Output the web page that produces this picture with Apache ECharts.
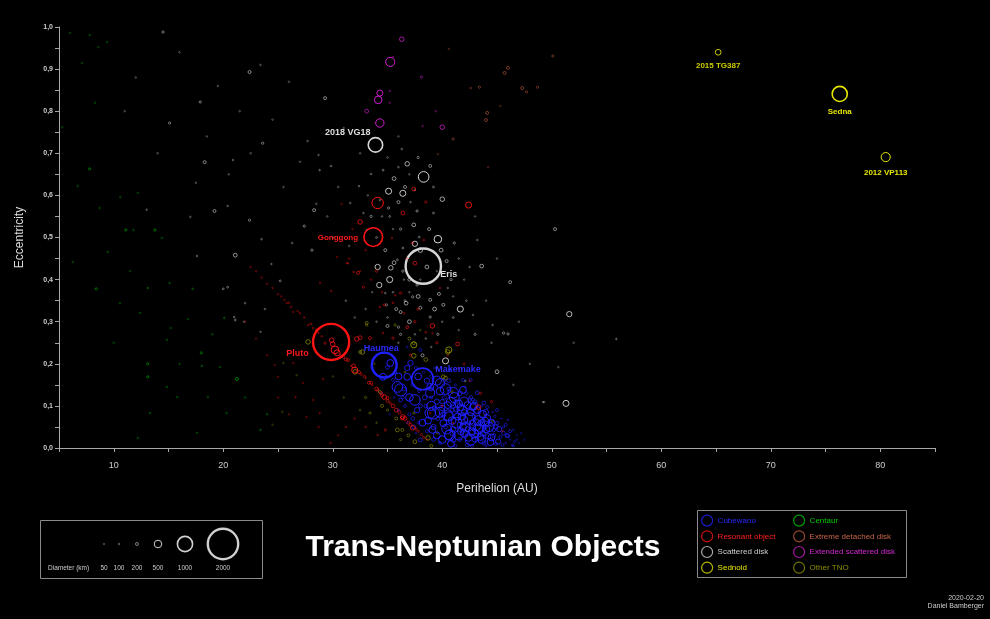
<!DOCTYPE html>
<html>
<head>
<meta charset="utf-8">
<script src="https://cdn.jsdelivr.net/npm/echarts@6/dist/echarts.min.js"></script>
<style>
  html, body { margin: 0; padding: 0; background: #000; }
  #main { width: 990px; height: 619px; }
</style>
</head>
<body>
<div id="main"></div>
<script>
// [perihelion AU, eccentricity, diameter km, name]
let cubewano = [
  [34.7,0.197,1632,'Haumea'],[38.2,0.164,1430,'Makemake'],
  [41.0,0.131,700],[39.2,0.083,800],[43.0,0.055,800],[38.9,0.131,600],[40.7,0.031,700],[42.6,0.019,700],
  [44.4,0.014,450],[46.5,0.005,150],[45.5,0.007,200],[39.8,0.154,600],[41.9,0.138,450],[43.9,0.062,600],
  [45.0,0.059,250],[46.0,0.029,250],[43.5,0.026,450],[41.9,0.067,600],[40.1,0.059,450],[41.65,0.097,450],
  [42.8,0.097,450],[44.1,0.097,200],[42.6,0.162,200],[40.5,0.102,450],[39.1,0.043,450],[36.2,0.138,800],
  [37.5,0.114,700],[38.9,0.083,700],[40.5,0.078,700],[40.6,0.031,600],[43.3,0.045,650],[44.1,0.071,450],
  [41.3,0.092,350],[42.3,0.102,450],[34.6,0.169,450],[36.8,0.169,450],[37.1,0.202,350],[38.9,0.145,450],
  [35.25,0.202,450],[37.4,0.05,250],[39.2,0.05,350],[41.9,0.05,450],[44.7,0.043,250],[45.3,0.026,200],
  [46.4,0.007,150],[42.3,0.007,250],[39.8,0.012,200],[38.0,0.019,250],[36.2,0.114,250],[35.5,0.162,200],
  [40.7,0.185,200],[41.9,0.162,200],[43.2,0.131,250],[43.8,0.107,250],[45.0,0.09,200],[46.0,0.067,120],
  [46.5,0.043,120],[38.0,0.233,200],[36.8,0.24,120],[35.9,0.145,700],[35.0,0.192,250],
  [37.0,0.08,200],[37.8,0.06,150],[38.5,0.10,250],[39.5,0.11,350],[40.2,0.12,250],[40.9,0.09,250],
  [41.4,0.075,450],[42.0,0.085,350],[42.4,0.06,250],[42.9,0.075,250],[43.4,0.085,200],[44.4,0.06,200],
  [44.8,0.075,150],[45.6,0.05,150],[46.2,0.02,120],[47.0,0.012,80],[47.5,0.02,60],[45.8,0.012,120],
  [44.9,0.01,200],[43.8,0.012,250],[43.0,0.02,350],[41.6,0.02,250],[41.0,0.045,350],[40.3,0.05,250],
  [39.6,0.07,250],[38.6,0.04,200],[37.6,0.035,120],[36.8,0.06,120],[36.0,0.09,150],[35.6,0.12,120],
  [37.3,0.15,200],[38.3,0.18,150],[39.3,0.19,120],[40.2,0.16,200],[41.2,0.15,150],[42.2,0.13,200],
  [42.8,0.115,200],[43.6,0.10,150],[44.6,0.085,120],[45.4,0.07,100],[46.8,0.03,60],[42.0,0.035,500],
  [42.7,0.04,450],[43.7,0.035,350],[44.2,0.028,350],[41.3,0.11,250],[40.0,0.095,350],[39.0,0.12,200],
  [37.9,0.135,200],[36.6,0.1,200],[35.2,0.08,100],[34.5,0.13,100],[42.5,0.115,250],[44.0,0.045,500],
  [43.2,0.09,450],[42.1,0.145,120],[40.6,0.14,250],[41.7,0.04,450],[40.9,0.065,500],
  [39.5,0.16,600],[40.3,0.14,700],[41.1,0.12,650],[42.0,0.11,600],[42.9,0.10,500],[43.7,0.08,500],
  [44.5,0.06,450],[45.2,0.045,350],[45.9,0.03,250],[39.0,0.10,600],[39.8,0.085,650],[40.6,0.075,600],
  [41.3,0.06,700],[42.1,0.05,650],[42.9,0.035,600],[43.6,0.02,500],[44.5,0.025,450],[40.0,0.02,500],
  [40.8,0.01,450],[41.5,0.03,600],[42.4,0.025,500],[41.8,0.075,500],[42.6,0.085,450],[43.3,0.065,650],
  [44.3,0.05,600],[45.1,0.015,350],[46.2,0.04,200],[38.2,0.06,450],[37.0,0.12,500],[36.0,0.17,450],
  [36.8,0.19,350],[37.8,0.17,450],[38.6,0.16,350],[39.8,0.135,500],[40.8,0.11,600],[41.8,0.09,650],
  [43.0,0.11,250],[44.0,0.085,350],[45.8,0.055,200],[46.8,0.02,120],[47.2,0.035,100],[40.4,0.045,650],
  [39.5,0.03,450],[38.7,0.065,450],[37.7,0.09,350],[36.5,0.14,250],[41.0,0.02,350],[43.5,0.05,700],
  [42.5,0.07,750],[41.5,0.105,500],
  [38.4,0.12,300],[39.3,0.095,300],[40.1,0.08,350],[40.9,0.035,300],[41.6,0.055,350],[42.3,0.045,300],
  [43.1,0.03,300],[43.9,0.05,300],[44.7,0.03,250],[42.8,0.06,350],[41.0,0.10,300],[40.0,0.11,300],
  [39.0,0.14,250],[38.0,0.10,250],[37.3,0.07,250],[36.4,0.12,200],[35.7,0.18,200],[37.6,0.19,200],
  [39.0,0.17,200],[40.6,0.16,250],[41.6,0.13,300],[42.6,0.12,250],[43.6,0.06,400],[44.9,0.05,300],
  [45.6,0.035,250],[46.6,0.015,150],[44.0,0.005,150],[42.7,0.005,200],[41.2,0.005,200],[39.2,0.02,250]
];
let resonant = [
  [29.85,0.252,2377,'Pluto'],[33.7,0.501,1230,'Gonggong'],
  [29.9,0.256,300],[30.2,0.233,500],[30.4,0.226,400],[30.0,0.247,300],[29.3,0.249,150],[31.4,0.209,200],
  [32.0,0.185,400],[32.2,0.259,300],[27.0,0.32,100],[27.75,0.292,100],[28.7,0.273,100],[25.8,0.344,80],
  [33.0,0.166,100],[33.6,0.15,100],[34.1,0.138,150],[34.7,0.121,300],[35.25,0.107,150],[36.4,0.074,300],
  [37.3,0.048,300],[34.8,0.043,150],[34.1,0.031,100],[29.8,0.012,80],[29.1,0.164,80],[26.6,0.121,60],
  [28.7,0.05,60],[27.6,0.074,60],[25.0,0.169,50],[24.7,0.197,50],[32.3,0.416,200],[31.4,0.439,100],
  [29.85,0.373,100],[28.85,0.392,80],[25.6,0.352,60],[26.4,0.323,60],[33.4,0.261,200],[32.5,0.262,250],
  [35.5,0.261,150],[39.1,0.29,300],[41.4,0.247,250],[43.3,0.097,300],[37.5,0.439,250],[34.1,0.582,750],
  [32.5,0.537,300],[42.4,0.577,400],[37.4,0.615,250],[36.4,0.558,250],[38.5,0.584,150],[38.3,0.494,120],
  [35.4,0.499,100],[31.3,0.439,100],[32.8,0.382,150],[34.3,0.335,100],[34.7,0.34,150],[35.7,0.363,100],
  [36.2,0.368,150],[36.8,0.287,200],[34.6,0.273,100],[31.9,0.418,100],[30.4,0.454,60],[41.0,0.059,100],
  [38.9,0.083,100],[35.0,0.119,200],[36.35,0.071,250],[37.1,0.221,150],[39.1,0.273,100],[37.3,0.487,150],
  [23.0,0.42,50],[24.0,0.39,60],[25.0,0.365,60],[26.2,0.335,80],[28.2,0.285,80],[31.0,0.215,150],
  [31.7,0.195,100],[32.6,0.175,150],[33.3,0.155,200],[34.4,0.13,200],[35.8,0.09,250],[36.9,0.06,200],
  [37.8,0.04,150],[38.3,0.025,150],[26.4,0.202,60],[27.3,0.154,60],[28.2,0.114,60],[28.8,0.083,60],
  [30.5,0.03,60],[31.2,0.05,80],[32.0,0.07,80],[33.0,0.05,100],[22.0,0.30,50],[23.0,0.26,50],
  [24.0,0.22,50],[25.0,0.12,50],[26.0,0.08,50],[40.0,0.10,120],[44.5,0.11,150],[42.0,0.20,120],
  [45.5,0.04,100],[31.8,0.52,60],[30.8,0.58,50],[36.8,0.45,100],[39.8,0.38,80],[34.0,0.42,150],
  [33.0,0.47,100],[37.8,0.33,150],
  [22.5,0.43,60],[23.5,0.405,60],[24.5,0.38,80],[25.3,0.36,60],[26.0,0.345,100],[26.8,0.325,80],
  [27.4,0.31,100],[28.0,0.295,120],[28.5,0.28,150],[29.0,0.265,100],[30.8,0.22,150],[31.2,0.21,200],
  [31.9,0.195,250],[32.4,0.18,200],[32.9,0.17,150],[33.5,0.155,200],[34.0,0.14,250],[34.5,0.125,200],
  [35.0,0.112,200],[35.5,0.10,250],[36.1,0.085,200],[36.6,0.07,250],[37.1,0.055,200],[37.6,0.045,150],
  [38.1,0.032,150],[38.6,0.02,100],[31.5,0.45,80],[32.5,0.42,100],[33.5,0.40,80],[34.5,0.37,100],
  [35.5,0.345,120],[36.5,0.32,100],[37.5,0.30,150],[38.5,0.275,120],[39.5,0.25,150],[40.5,0.22,100],
  [41.5,0.19,120],[42.5,0.16,100],[43.5,0.13,150]
];
let scattered = [
  [38.27,0.432,2326,'Eris'],[33.9,0.72,950,'2018 VG18'],
  [14.5,0.988,150],[22.4,0.893,200],[17.9,0.822,150],[15.1,0.772,150],[29.3,0.831,200],[23.6,0.724,150],
  [18.3,0.679,200],[19.2,0.563,200],[22.4,0.541,150],[28.3,0.565,200],[27.4,0.527,150],[20.9,0.684,80],
  [27.7,0.729,80],[28.7,0.696,80],[28.8,0.66,100],[23.5,0.496,100],[17.0,0.549,80],[23.4,0.91,60],
  [20.4,0.575,80],[13.0,0.566,80],[21.1,0.458,250],[17.6,0.456,100],[20.0,0.378,120],[20.4,0.382,120],
  [21.1,0.304,120],[21.0,0.311,100],[22.0,0.344,80],[23.8,0.33,80],[24.4,0.437,80],[25.2,0.397,120],
  [26.3,0.487,80],[23.4,0.276,80],[21.9,0.30,60],[28.1,0.47,150],[29.85,0.67,100],[38.3,0.644,700],
  [36.8,0.675,300],[35.1,0.61,400],[36.4,0.605,400],[38.9,0.67,200],[40.0,0.591,300],[39.6,0.496,500],
  [37.5,0.485,350],[34.1,0.43,350],[35.3,0.428,300],[35.2,0.40,400],[34.25,0.387,350],[38.6,0.43,250],
  [40.4,0.444,200],[43.6,0.432,250],[46.2,0.394,200],[41.65,0.33,400],[41.1,0.487,150],[39.7,0.366,200],
  [38.9,0.352,200],[36.7,0.344,250],[36.2,0.323,200],[36.0,0.667,100],[32.4,0.622,100],[33.5,0.651,100],
  [36.0,0.584,200],[37.7,0.563,150],[39.2,0.558,120],[35.1,0.57,150],[37.1,0.584,100],[37.9,0.501,120],
  [45.6,0.273,150],[46.0,0.271,150],[36.0,0.287,150],[37.3,0.359,150],[37.7,0.387,150],[38.9,0.311,150],
  [38.0,0.333,200],[35.5,0.37,100],[34.8,0.368,100],[35.9,0.447,120],[36.4,0.475,120],[37.5,0.613,100],
  [34.3,0.589,100],[31.6,0.582,80],[32.8,0.558,80],[33.1,0.518,80],[43.2,0.494,80],[44.6,0.292,80],
  [42.8,0.316,80],[51.6,0.318,350],[50.3,0.52,200],[45.0,0.181,250],[51.3,0.106,400],[40.3,0.207,400],
  [42.1,0.159,100],[55.9,0.259,100],[49.3,0.109,60],[50.6,0.192,50],[49.2,0.109,60],
  [31.2,0.35,80],[32.0,0.31,60],[33.0,0.33,80],[33.6,0.37,60],[34.0,0.30,80],[35.0,0.31,100],
  [36.5,0.40,80],[37.0,0.37,60],[38.0,0.40,80],[39.5,0.42,60],[40.5,0.38,80],[41.0,0.36,60],
  [42.0,0.40,60],[40.0,0.30,80],[41.5,0.28,60],[37.5,0.27,100],[36.0,0.25,80],[38.5,0.26,100],
  [39.0,0.24,80],[35.5,0.52,60],[34.5,0.55,80],[33.2,0.60,60],[37.0,0.65,60],[35.0,0.69,60],
  [32.5,0.70,60],[36.0,0.74,50],[31.0,0.76,50],[30.5,0.62,60],[29.5,0.55,60],[30.0,0.50,80],
  [31.5,0.48,60],[44.0,0.35,60],[45.0,0.45,60],[43.0,0.55,50],[47.0,0.30,60],[48.0,0.20,50],
  [52.0,0.25,50],[46.5,0.15,60],[44.5,0.25,80],[12.0,0.88,50],[16.0,0.94,50],[19.5,0.86,50],
  [21.5,0.80,50],[24.5,0.78,50],[26.0,0.87,50],[18.5,0.74,50],[25.5,0.62,50],[27.0,0.68,50],
  [28.5,0.58,50],[22.5,0.70,50],[20.5,0.65,50],[17.5,0.63,50],[14.0,0.70,50],[11.0,0.80,50],
  [33.5,0.55,150],[34.0,0.50,120],[34.8,0.47,200],[35.6,0.44,250],[36.4,0.42,150],[37.0,0.40,200],
  [37.8,0.36,250],[36.6,0.35,120],[35.8,0.33,200],[34.9,0.34,150],[39.3,0.33,250],[40.1,0.34,200],
  [40.8,0.40,150],[39.9,0.47,250],[38.8,0.52,200],[37.4,0.53,250],[36.2,0.52,150],[35.2,0.55,120],
  [36.6,0.62,200],[35.6,0.64,250],[34.6,0.66,120],[37.8,0.69,150],[36.3,0.71,100],[39.2,0.62,120],
  [38.0,0.47,300],[35.0,0.29,200],[36.2,0.27,150],[37.0,0.30,250],[38.2,0.22,200],[39.6,0.27,150],
  [41.0,0.31,120],[42.2,0.35,100],[43.0,0.27,150],[42.5,0.43,100],[41.5,0.45,100]
];
let sednoid = [
  [76.3,0.841,995,'Sedna'],[80.5,0.691,600,'2012 VP113'],[65.2,0.94,380,'2015 TG387']
];
let centaur = [
  [8.4,0.378,150],[13.1,0.38,100],[17.2,0.378,100],[18.0,0.226,150],[13.1,0.2,150],[13.1,0.169,150],
  [21.25,0.164,200],[18.05,0.195,80],[20.1,0.309,80],[15.2,0.285,50],[14.85,0.257,50],[15.1,0.392,50],
  [9.45,0.466,50],[16.8,0.306,50],[19.7,0.192,50],[23.4,0.043,80],[12.2,0.024,50],[13.3,0.083,50],
  [17.6,0.036,50],[20.3,0.083,50],[14.85,0.145,50],[15.8,0.121,50],[18.6,0.121,50],[6.25,0.442,50],
  [12.4,0.321,50],[10.55,0.344,50],[7.8,0.663,150],[11.1,0.518,150],[13.75,0.518,150],[8.7,0.57,50],
  [6.7,0.622,50],[11.8,0.518,50],[14.4,0.499,50],[12.2,0.606,40],[10.6,0.596,40],[6.0,0.986,40],
  [7.8,0.981,40],[8.6,0.952,40],[8.3,0.82,40],[5.3,0.762,40],[9.4,0.964,40],[7.1,0.914,40],
  [22.0,0.12,50],[24.0,0.08,50],[10.0,0.25,40],[16.0,0.20,50],[19.0,0.27,50],[11.5,0.42,40]
];
let extremeDetached = [
  [50.1,0.931,150],[46.0,0.903,200],[45.7,0.891,200],[43.4,0.857,150],[42.6,0.855,100],[47.3,0.855,200],
  [47.7,0.846,150],[48.7,0.857,150],[44.1,0.796,200],[44.0,0.779,200],[41.0,0.734,150],[45.3,0.812,60],
  [40.6,0.948,60],[39.6,0.698,60],[44.2,0.667,60]
];
let extendedScattered = [
  [36.3,0.971,300],[35.25,0.917,600],[34.3,0.843,400],[34.15,0.827,500],[33.1,0.80,250],[34.3,0.772,550],
  [40.0,0.762,300],[38.1,0.881,150],[35.2,0.848,100],[35.2,0.82,100],[39.4,0.80,100],[38.2,0.765,80],
  [35.5,0.929,80]
];
let otherTNO = [
  [27.75,0.252,300],[33.1,0.292,150],[32.5,0.228,200],[32.05,0.181,300],[32.7,0.228,300],[37.4,0.245,400],
  [37.4,0.219,300],[40.6,0.233,400],[40.1,0.169,250],[38.7,0.024,300],[40.5,0.228,300],[40.3,0.166,250],
  [40.9,0.133,150],[34.3,0.133,200],[35.0,0.09,150],[35.9,0.043,250],[37.4,0.083,150],[39.55,0.036,150],
  [37.4,0.249,200],[44.6,0.064,150],[43.9,0.078,100],[33.4,0.083,150],[36.35,0.043,200],[33.1,0.297,200],
  [35.7,0.292,150],[25.5,0.202,50],[26.7,0.173,50],[25.4,0.086,50],[24.5,0.055,50],[36.2,0.02,150],
  [34.0,0.06,100],[31.0,0.12,80],[30.0,0.17,60],[33.8,0.20,100],[38.0,0.28,100],[36.6,0.18,120],
  [37.0,0.26,200],[38.5,0.21,250],[39.5,0.19,150],[34.5,0.10,200],[35.8,0.07,200],[36.9,0.03,200],
  [33.0,0.12,150],[39.0,0.005,200],[37.5,0.015,250],[32.5,0.09,100]
];

let classNames = ['Cubewano','Resonant object','Scattered disk','Sednoid',
                  'Centaur','Extreme detached disk','Extended scattered disk','Other TNO'];
let sizeKeys = [50, 100, 200, 500, 1000, 2000];

const colors = {
  'Cubewano': '#2020ff', 'Resonant object': '#ff1414', 'Scattered disk': '#d6d6d6', 'Sednoid': '#e6e600',
  'Centaur': '#00c400', 'Extreme detached disk': '#c25a3e', 'Extended scattered disk': '#d01ed0', 'Other TNO': '#8f8f00'
};
const textColors = {
  'Cubewano': '#2a2aff', 'Resonant object': '#ff2020', 'Scattered disk': '#cfcfcf', 'Sednoid': '#e6e600',
  'Centaur': '#00cc00', 'Extreme detached disk': '#c8644a', 'Extended scattered disk': '#d428d4', 'Other TNO': '#8f8f00'
};

// label placement for the named bodies
const labelStyle = {
  'Pluto':      { position: 'left', distance: 3, offset: [0, 12], color: '#ff1a1a', fontSize: 9 },
  'Gonggong':   { position: 'left', distance: 5, offset: [0, 1], color: '#ff1a1a', fontSize: 8 },
  'Eris':       { position: 'right', distance: 0, offset: [-2, 8], color: '#dddddd', fontSize: 9 },
  '2018 VG18':  { position: 'left', distance: 5, offset: [8, -12], color: '#dddddd', fontSize: 9 },
  'Haumea':     { position: 'top', distance: -2, offset: [-3, 0], color: '#2a2aff', fontSize: 9 },
  'Makemake':   { position: 'right', distance: 1, offset: [0, -9], color: '#2a2aff', fontSize: 9 },
  'Sedna':      { position: 'bottom', distance: 5, offset: [0, 0], color: '#e6e600', fontSize: 8 },
  '2012 VP113': { position: 'bottom', distance: 7, offset: [0, 0], color: '#e6e600', fontSize: 8 },
  '2015 TG387': { position: 'bottom', distance: 6, offset: [0, 0], color: '#e6e600', fontSize: 8 }
};

function px(d) { return Math.max(1.6, d * 0.0152); }
function alpha(d) { return Math.min(1, 0.25 + d / 600); }
function lw(d) { return d >= 1500 ? 2.4 : d >= 900 ? 1.6 : 1; }

function toItems(list) {
  return list.map(function (p) {
    let item = {
      name: p[3] || '',
      value: [p[0], p[1], p[2]],
      symbolSize: px(p[2]),
      itemStyle: { opacity: alpha(p[2]), borderWidth: lw(p[2]) }
    };
    if (p[3] && labelStyle[p[3]]) {
      let s = labelStyle[p[3]];
      item.label = {
        show: true, formatter: p[3], position: s.position, distance: s.distance, offset: s.offset,
        color: s.color, fontSize: s.fontSize, fontWeight: 'bold', fontFamily: 'Liberation Sans, Arial'
      };
    }
    return item;
  });
}

function makeSeries(name, list) {
  return {
    name: name,
    type: 'scatter',
    symbol: 'circle',
    data: toItems(list),
    itemStyle: { color: 'rgba(0,0,0,0)', borderColor: colors[name], borderWidth: 1.3 },
    emphasis: { disabled: true },
    silent: true
  };
}

let chart = echarts.init(document.getElementById('main'));

let sizeX = [104, 119, 137, 158, 185, 223];
let graphics = [
  { type: 'rect', shape: { x: 40.5, y: 520.5, width: 222, height: 58 },
    style: { fill: 'none', stroke: '#8a8a8a', lineWidth: 1 } },
  { type: 'text', x: 48, y: 568, style: { text: 'Diameter (km)', fill: '#cccccc',
    font: '6.5px Liberation Sans', textVerticalAlign: 'middle' } },
  { type: 'rect', shape: { x: 697.5, y: 510.5, width: 209, height: 67 },
    style: { fill: 'none', stroke: '#8a8a8a', lineWidth: 1 } },
  { type: 'text', x: 483, y: 548, style: { text: 'Trans-Neptunian Objects', fill: '#ffffff',
    font: 'bold 30px Liberation Sans', textAlign: 'center', textVerticalAlign: 'middle' } },
  { type: 'text', x: 984, y: 598, style: { text: '2020-02-20', fill: '#cccccc',
    font: '7px Liberation Sans', textAlign: 'right', textVerticalAlign: 'middle' } },
  { type: 'text', x: 984, y: 606, style: { text: 'Daniel Bamberger', fill: '#cccccc',
    font: '7px Liberation Sans', textAlign: 'right', textVerticalAlign: 'middle' } }
];
sizeKeys.forEach(function (d, i) {
  graphics.push({ type: 'circle', shape: { cx: sizeX[i], cy: 544, r: px(d) / 2 },
    style: { fill: 'none', stroke: '#d0d0d0', lineWidth: lw(d), opacity: alpha(d) } });
  graphics.push({ type: 'text', x: sizeX[i], y: 568, style: { text: String(d), fill: '#cccccc',
    font: '6.5px Liberation Sans', textAlign: 'center', textVerticalAlign: 'middle' } });
});

function legendData(names) {
  return names.map(function (n) { return { name: n, textStyle: { color: textColors[n] } }; });
}

let option = {
  backgroundColor: '#000000',
  animation: false,
  textStyle: { fontFamily: 'Liberation Sans, Arial' },
  grid: { left: 59, right: 55, top: 27, bottom: 171 },
  xAxis: {
    type: 'value', min: 5, max: 85, interval: 5, offset: 5,
    name: 'Perihelion (AU)', nameLocation: 'middle', nameGap: 30,
    nameTextStyle: { color: '#dddddd', fontSize: 12 },
    axisLine: { lineStyle: { color: '#a8a8a8' } },
    axisTick: { length: 4, lineStyle: { color: '#a8a8a8' } },
    axisLabel: { color: '#cccccc', fontSize: 9, margin: 8,
      formatter: function (v) { return v % 10 === 0 ? String(v) : ''; } },
    splitLine: { show: false }
  },
  yAxis: {
    type: 'value', min: 0, max: 1, interval: 0.05,
    name: 'Eccentricity', nameLocation: 'middle', nameGap: 33, nameRotate: 90,
    nameTextStyle: { color: '#dddddd', fontSize: 12 },
    axisLine: { show: true, lineStyle: { color: '#a8a8a8' } },
    axisTick: { show: true, length: 4, lineStyle: { color: '#a8a8a8' } },
    axisLabel: { color: '#cccccc', fontSize: 7, fontWeight: 'bold', margin: 6,
      formatter: function (v) {
        return Math.round(v * 100) % 10 === 0 ? v.toFixed(1).replace('.', ',') : '';
      } },
    splitLine: { show: false }
  },
  legend: [
    { orient: 'vertical', left: 701, top: 514.5, padding: 0, itemWidth: 11, itemHeight: 11, itemGap: 3.5,
      icon: 'circle', selectedMode: false, textStyle: { fontSize: 8 },
      itemStyle: { borderWidth: 1.2 },
      data: legendData(classNames.slice(0, 4)) },
    { orient: 'vertical', left: 793, top: 514.5, padding: 0, itemWidth: 11, itemHeight: 11, itemGap: 3.5,
      icon: 'circle', selectedMode: false, textStyle: { fontSize: 8 },
      itemStyle: { borderWidth: 1.2 },
      data: legendData(classNames.slice(4)) }
  ],
  graphic: graphics,
  series: [
    makeSeries('Centaur', centaur),
    makeSeries('Other TNO', otherTNO),
    makeSeries('Scattered disk', scattered),
    makeSeries('Extreme detached disk', extremeDetached),
    makeSeries('Extended scattered disk', extendedScattered),
    makeSeries('Cubewano', cubewano),
    makeSeries('Resonant object', resonant),
    makeSeries('Sednoid', sednoid)
  ]
};

chart.setOption(option);
</script>
</body>
</html>
